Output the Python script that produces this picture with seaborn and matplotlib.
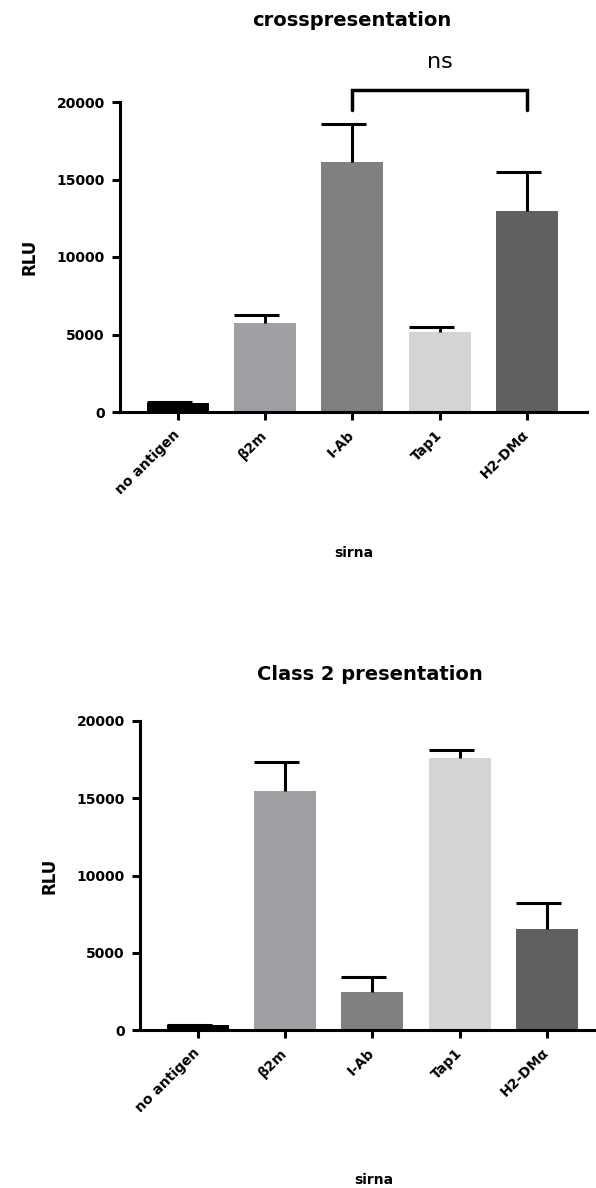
import matplotlib
matplotlib.use("Agg")
import matplotlib.pyplot as plt
import seaborn as sns
import pandas as pd

# ---- data ----
categories = ["no antigen", "β2m", "I-Ab", "Tap1", "H2-DMα"]
bar_colors = ["#000000", "#a0a0a4", "#808080", "#d4d4d4", "#606060"]
cross_mean = [560, 5750, 16100, 5180, 12950]
cross_sem = [80, 500, 2450, 280, 2550]
class2_mean = [300, 15500, 2450, 17630, 6540]
class2_sem = [30, 1840, 970, 510, 1650]
y_ticks = [0, 5000, 10000, 15000, 20000]
y_tick_labels = ["0", "5000", "10000", "15000", "20000"]
bracket_pair = [2, 4]          # I-Ab vs H2-DMα
bracket_levels = [19500, 20800]
ns_level = 22600
ns_label = "ns"
title_top = "crosspresentation"
title_bottom = "Class 2 presentation"
x_label = "sirna"
y_label = "RLU"

sns.set_theme(style="ticks")
plt.rcParams['font.family'] = ['DejaVu Sans']

W, H = 596, 1188
fig = plt.figure(figsize=(W / 100, H / 100), dpi=100)
ax1 = fig.add_axes([120 / W, 1 - 412 / H, 467 / W, 310 / H])
ax2 = fig.add_axes([140 / W, 1 - 1030 / H, 467 / W, 309 / H])

LW = 2.2


def draw(ax, means, sems, xlabel_y):
    df = pd.DataFrame({"sirna": categories, "RLU": means})
    sns.barplot(data=df, x="sirna", y="RLU", hue="sirna", palette=bar_colors,
                legend=False, width=0.71, errorbar=None, saturation=1,
                linewidth=0, ax=ax)
    xs = list(range(len(categories)))
    tops = [m + s for m, s in zip(means, sems)]
    ax.vlines(xs, means, tops, color="black", lw=LW, zorder=3)
    ax.hlines(tops, [x - 0.355 for x in xs], [x + 0.16 for x in xs],
              color="black", lw=LW, zorder=3)
    sns.despine(ax=ax)
    for s in ("left", "bottom"):
        ax.spines[s].set_linewidth(LW)
        ax.spines[s].set_color("black")
    ax.set_xlim(-0.665, 4.69)
    ax.set_ylim(0, 20000)
    ax.set_yticks(y_ticks)
    ax.set_yticklabels(y_tick_labels, fontsize=10, fontweight="bold")
    ax.set_xticks(xs)
    ax.set_xticklabels(categories, fontsize=10, fontweight="bold",
                       rotation=45, ha="right", va="center",
                       rotation_mode="anchor")
    ax.tick_params(axis="both", width=LW, length=6, color="black",
                   labelcolor="black")
    ax.tick_params(axis="y", pad=5)
    ax.tick_params(axis="x", pad=9)
    ax.set_ylabel(y_label, fontsize=12, fontweight="bold", va="center",
                  color="black")
    ax.yaxis.set_label_coords(-0.193, 0.5)
    ax.set_xlabel(x_label, fontsize=10, fontweight="bold", va="center",
                  color="black")
    ax.xaxis.set_label_coords(0.5, xlabel_y)
    ax.set_facecolor("white")


draw(ax1, cross_mean, cross_sem, -0.455)
draw(ax2, class2_mean, class2_sem, -0.485)

# significance bracket
bx = [bracket_pair[0], bracket_pair[0], bracket_pair[1], bracket_pair[1]]
by = [bracket_levels[0], bracket_levels[1], bracket_levels[1], bracket_levels[0]]
ax1.plot(bx, by, color="black", lw=2.5, clip_on=False,
         solid_joinstyle="miter")
ax1.text((bracket_pair[0] + bracket_pair[1]) / 2, ns_level, ns_label,
         ha="center", va="center", fontsize=16, color="black",
         clip_on=False)

fig.text(352 / W, 1 - 20 / H, title_top, ha="center", va="center",
         fontsize=14, fontweight="bold", color="black")
fig.text(370 / W, 1 - 674 / H, title_bottom, ha="center", va="center",
         fontsize=14, fontweight="bold", color="black")

fig.savefig("out.png", dpi=100, facecolor="white")
